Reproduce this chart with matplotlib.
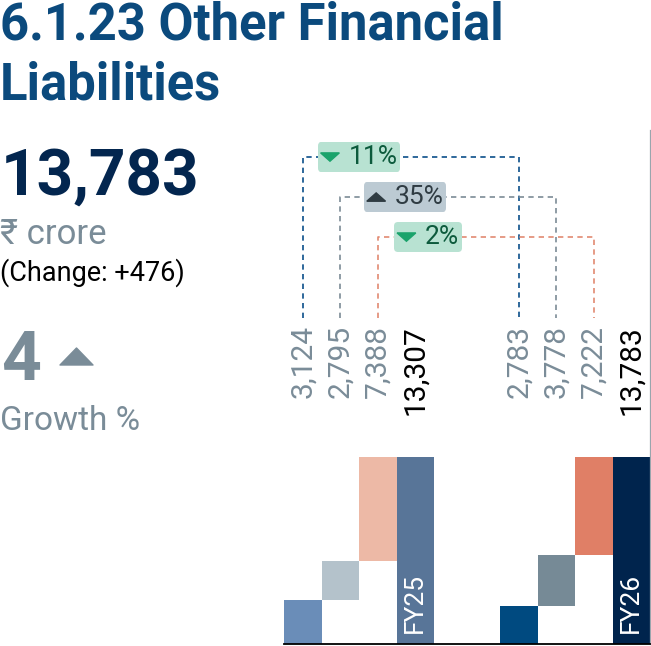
import matplotlib
matplotlib.use("Agg")
import matplotlib.pyplot as plt
from matplotlib.patches import Polygon
from matplotlib.offsetbox import HPacker, TextArea, DrawingArea, AnnotationBbox

# ---------------- data ----------------
years = ["FY25", "FY26"]
fy25_parts = [3124, 2795, 7388]
fy26_parts = [2783, 3778, 7222]
totals = [13307, 13783]

# ---------------- styles ----------------
part_colors = [["#6a8db8", "#b4c2cb", "#edb9a6"],
               ["#004a80", "#768a96", "#e07f66"]]
total_colors = ["#587598", "#00244d"]
link_colors = ["#0b4f8a", "#7c8b96", "#e28a72"]
GRAY = "#7a8c98"
NAVY = "#03264f"
TITLE = "#0b4a7d"
FONT = ["Roboto", "DejaVu Sans"]
plt.rcParams["font.family"] = FONT

W, H = 651, 646
fig = plt.figure(figsize=(W / 100, H / 100), dpi=100)

def fx(px):
    return px / W

def fy(py):
    return 1 - py / H

# ---------------- left text block ----------------
fig.text(fx(0), fy(40), "6.1.23 Other Financial", fontsize=36.5, fontweight="bold",
         color=TITLE, va="baseline", ha="left")
fig.text(fx(0), fy(100), "Liabilities", fontsize=36.5, fontweight="bold",
         color=TITLE, va="baseline", ha="left")

latest, prev = totals[1], totals[0]
fig.text(fx(1), fy(195), f"{latest:,}", fontsize=46, fontweight="bold",
         color=NAVY, va="baseline", ha="left")
fig.text(fx(0), fy(244), "\u20b9 crore", fontsize=25, color=GRAY,
         va="baseline", ha="left", family=["Roboto", "DejaVu Sans", "Noto Sans"])
fig.text(fx(0), fy(281), f"(Change: {latest - prev:+,})", fontsize=19.5,
         color="black", va="baseline", ha="left")
growth = round((latest - prev) / prev * 100)
fig.text(fx(1), fy(380), f"{growth}", fontsize=50, fontweight="bold",
         color=GRAY, va="baseline", ha="left")
tri = Polygon([[fx(60), fy(365)], [fx(93), fy(365)], [fx(76.5), fy(348)]],
              closed=True, transform=fig.transFigure, color=GRAY, joinstyle="round")
fig.patches.append(tri)
fig.text(fx(0), fy(430), "Growth %", fontsize=24, color=GRAY,
         va="baseline", ha="left")

# ---------------- chart axes ----------------
ax = fig.add_axes([fx(284), fy(644), fx(650) - fx(284), fy(130) - fy(644)])
ymax = 514 / 187
ax.set_xlim(-0.5, 9.26)
ax.set_ylim(0, ymax)
for s in ["top", "left"]:
    ax.spines[s].set_visible(False)
ax.spines["bottom"].set_color("black")
ax.spines["bottom"].set_linewidth(1.3)
ax.spines["right"].set_color("#9aa5ad")
ax.spines["right"].set_linewidth(0.9)
ax.set_xticks([])
ax.set_yticks([])
ax.patch.set_alpha(0)

group_gap = 5.76
groups = [fy25_parts, fy26_parts]
centers = []
for g, parts in enumerate(groups):
    total = totals[g]
    bottom = 0.0
    cs = []
    for i, v in enumerate(parts):
        x = g * group_gap + i
        h = v / total
        ax.bar(x, h, width=1.0, bottom=bottom, color=part_colors[g][i],
               linewidth=0, zorder=2)
        bottom += h
        cs.append(x)
        ax.text(x, 1.706, f"{v:,}", rotation=90, ha="center", va="top",
                fontsize=21.5, color=GRAY)
    xt = g * group_gap + len(parts)
    ax.bar(xt, 1.0, width=1.0, color=total_colors[g], linewidth=0, zorder=2)
    ax.text(xt, 1.706, f"{total:,}", rotation=90, ha="center", va="top",
            fontsize=21.5, color="black")
    ax.text(xt, 0.06, years[g], rotation=90, ha="center", va="bottom",
            fontsize=19, color="white", zorder=3)
    centers.append(cs)

# ---------------- connectors & badges ----------------
link_y = [2.604, 2.390, 2.176]
link_bottom = 1.745
badge_x = [1.50, 2.73, 3.34]
for i in range(3):
    x1, x2 = centers[0][i], centers[1][i]
    y = link_y[i]
    ax.plot([x1, x1, x2, x2], [link_bottom, y, y, link_bottom],
            color=link_colors[i], lw=1.2, dashes=(3.2, 2.6), zorder=1,
            clip_on=False)
    a, b = groups[0][i], groups[1][i]
    pct = (b - a) / a * 100
    up = pct > 0
    if up:
        bg, fg, tc = "#bccad3", "#2f3b42", "#2f3b42"
    else:
        bg, fg, tc = "#b8e2d2", "#0c5a3c", "#1aa36b"
    da = DrawingArea(14, 8, 0, 0)
    if up:
        pts = [[0, 1], [13.5, 1], [6.75, 7]]
    else:
        pts = [[0, 7], [13.5, 7], [6.75, 1]]
    da.add_artist(Polygon(pts, closed=True, color=tc))
    ta = TextArea(f"{abs(pct):.0f}%", textprops=dict(fontsize=19, color=fg,
                                                      family=FONT))
    pack = HPacker(children=[da, ta], align="center", pad=0, sep=6)
    ab = AnnotationBbox(pack, (badge_x[i], y), xycoords="data", frameon=True,
                        box_alignment=(0.5, 0.5), pad=0.2,
                        bboxprops=dict(boxstyle="round,pad=0.2,rounding_size=0.25",
                                       fc=bg, ec="none"))
    ab.set_zorder(4)
    ax.add_artist(ab)

fig.savefig("out.png", dpi=100)
